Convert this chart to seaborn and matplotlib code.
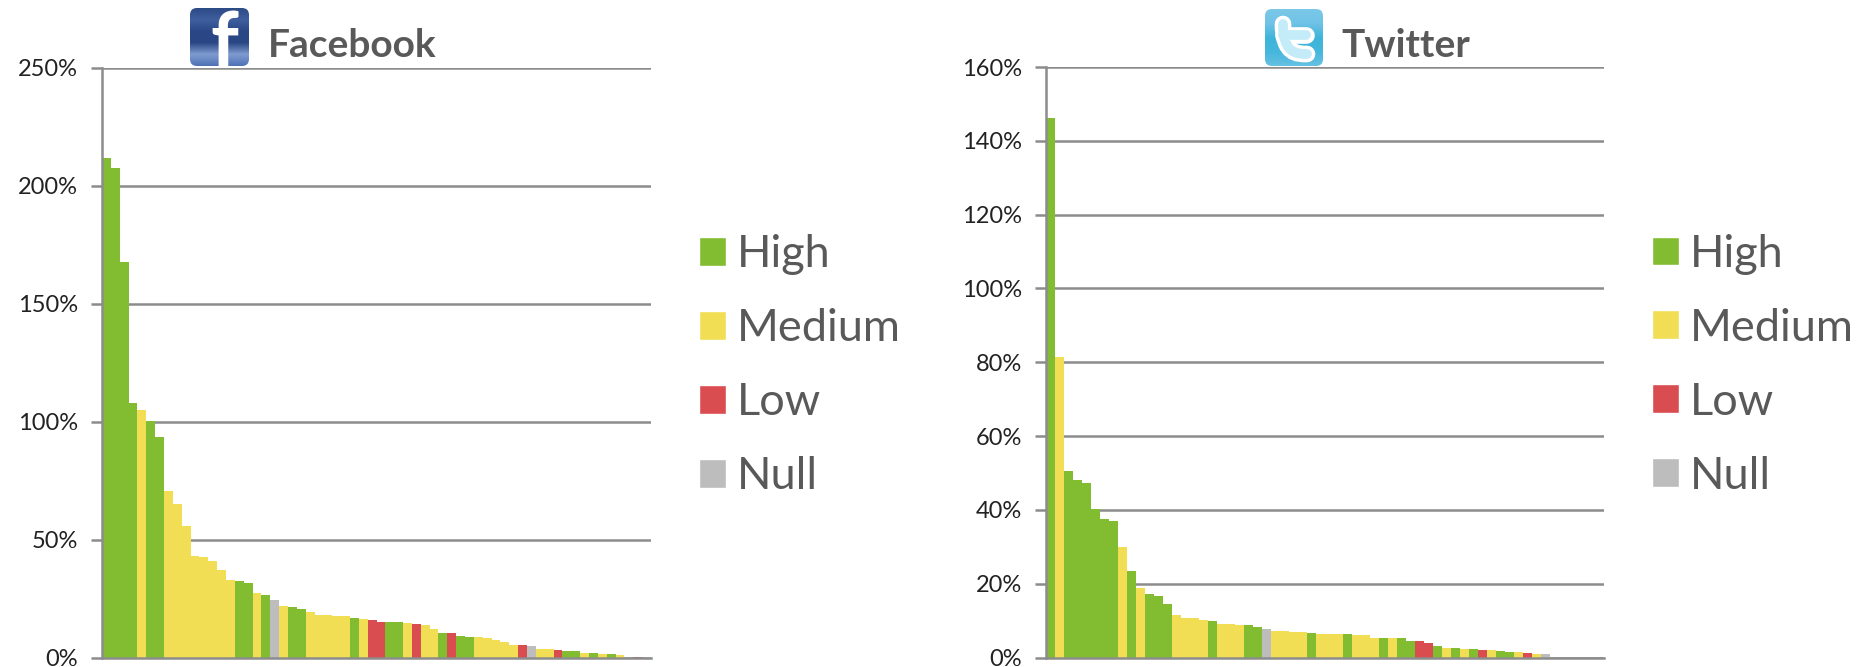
import numpy as np
import pandas as pd
import matplotlib.pyplot as plt
from matplotlib.colors import LinearSegmentedColormap
from matplotlib.patches import FancyBboxPatch, Patch, PathPatch
from matplotlib.path import Path
import seaborn as sns

W, H = 1872, 667

levels = ['High', 'Medium', 'Low', 'Null']
level_colors = {'High': '#82bd31', 'Medium': '#f2de55', 'Low': '#d94c4f', 'Null': '#bdbdbd'}

facebook_values = [211.8, 207.4, 167.9, 108.1, 104.8, 100.3, 93.7, 70.7, 65.1, 55.6,
                   43.2, 42.8, 41.0, 37.1, 32.9, 32.6, 31.7, 27.2, 26.5, 24.5,
                   21.9, 21.6, 20.6, 19.1, 17.9, 17.9, 17.8, 17.5, 16.9, 16.4,
                   16.1, 15.1, 15.2, 14.9, 14.7, 14.4, 13.7, 12.1, 10.2, 10.2,
                   9.0, 8.7, 8.5, 8.4, 7.3, 6.4, 5.5, 5.5, 4.7, 3.4,
                   3.4, 3.1, 2.8, 2.7, 1.7, 1.7, 1.6, 1.3, 0.9, 0.3,
                   0.3, 0.1]
facebook_levels = ['High', 'High', 'High', 'High', 'Medium', 'High', 'High', 'Medium', 'Medium', 'Medium',
                   'Medium', 'Medium', 'Medium', 'Medium', 'Medium', 'High', 'High', 'Medium', 'High', 'Null',
                   'Medium', 'High', 'High', 'Medium', 'Medium', 'Medium', 'Medium', 'Medium', 'High', 'Medium',
                   'Low', 'Low', 'High', 'High', 'Medium', 'Low', 'Medium', 'Medium', 'High', 'Low',
                   'High', 'High', 'Medium', 'Medium', 'Medium', 'Medium', 'Medium', 'Low', 'Null', 'Medium',
                   'Medium', 'Low', 'High', 'High', 'Medium', 'High', 'Medium', 'High', 'Medium', 'Null',
                   'Low', 'Null']

twitter_values = [146.2, 81.5, 50.4, 48.2, 47.4, 40.3, 37.4, 36.9, 29.9, 23.5,
                  18.9, 17.1, 16.7, 14.6, 11.6, 10.8, 10.7, 10.1, 9.9, 9.0,
                  9.0, 8.8, 8.7, 8.2, 7.6, 7.3, 7.2, 6.9, 6.8, 6.7,
                  6.5, 6.4, 6.3, 6.3, 6.1, 6.0, 5.4, 5.4, 5.3, 5.2,
                  4.6, 4.5, 4.0, 3.2, 2.7, 2.5, 2.3, 2.2, 2.1, 2.0,
                  1.7, 1.6, 1.4, 1.1, 0.9, 0.9, 0, 0, 0, 0,
                  0, 0]
twitter_levels = ['High', 'Medium', 'High', 'High', 'High', 'High', 'High', 'High', 'Medium', 'High',
                  'Medium', 'High', 'High', 'High', 'Medium', 'Medium', 'Medium', 'Medium', 'High', 'Medium',
                  'Medium', 'Medium', 'High', 'High', 'Null', 'Medium', 'Medium', 'Medium', 'Medium', 'High',
                  'Medium', 'Medium', 'Medium', 'High', 'Medium', 'Medium', 'Medium', 'High', 'Medium', 'High',
                  'High', 'Low', 'Low', 'High', 'Medium', 'High', 'Medium', 'High', 'Low', 'Medium',
                  'High', 'High', 'Medium', 'Low', 'Medium', 'Null', 'Null', 'Null', 'Null', 'Null',
                  'Null', 'Null']

facebook_ticks = [0, 50, 100, 150, 200, 250]
twitter_ticks = [0, 20, 40, 60, 80, 100, 120, 140, 160]

sns.set_theme(style='white')
plt.rcParams['font.family'] = ['Lato', 'DejaVu Sans']

fig = plt.figure(figsize=(W / 100, H / 100), dpi=100, facecolor='white')


def px_axes(left, top, right, bottom):
    return fig.add_axes([left / W, 1 - bottom / H, (right - left) / W, (bottom - top) / H])


def draw_panel(ax, values, bar_levels, ticks, legend_x):
    df = pd.DataFrame({'pos': range(len(values)), 'value': values, 'level': bar_levels})
    sns.barplot(data=df, x='pos', y='value', hue='level', hue_order=levels, palette=level_colors,
                dodge=False, width=1.0, saturation=1, linewidth=0, legend=False, ax=ax, zorder=3)
    ax.set_xlim(-0.5, len(values) - 0.5)
    ax.set_ylim(ticks[0], ticks[-1])
    ax.set_yticks(ticks)
    ax.set_yticklabels([f'{t}%' for t in ticks], fontsize=17, color='#222222')
    ax.set_xticks([])
    ax.set_xlabel('')
    ax.set_ylabel('')
    ax.set_axisbelow(True)
    ax.yaxis.grid(True, color='#8c8c8c', linewidth=1.8)
    ax.tick_params(axis='y', length=8, width=1.8, color='#8c8c8c', pad=9.5, left=True)
    for side in ['top', 'right']:
        ax.spines[side].set_visible(False)
    for side in ['left', 'bottom']:
        ax.spines[side].set_color('#8c8c8c')
        ax.spines[side].set_linewidth(1.8)
        ax.spines[side].set_zorder(4)
    handles = [Patch(facecolor=level_colors[lv], label=lv) for lv in levels]
    ax.legend(handles=handles, loc='center left', bbox_to_anchor=(legend_x, 0.495), frameon=False,
              fontsize=32.5, labelcolor='#595959', handlelength=0.6, handleheight=0.6,
              handletextpad=0.25, labelspacing=0.73, borderpad=0, borderaxespad=0)


ax_fb = px_axes(102, 68, 651, 657.5)
draw_panel(ax_fb, facebook_values, facebook_levels, facebook_ticks, 1.0874)
ax_tw = px_axes(1046, 67, 1604, 657.5)
draw_panel(ax_tw, twitter_values, twitter_levels, twitter_ticks, 1.086)

# overlay in pixel coordinates for the logos and headings
over = fig.add_axes([0, 0, 1, 1], zorder=10)
over.patch.set_alpha(0)
over.axis('off')


def draw_icon(x0, y0, x1, y1, colors):
    cmap = LinearSegmentedColormap.from_list('icon', colors)
    grad = np.linspace(0, 1, 128).reshape(-1, 1)
    im = over.imshow(grad, cmap=cmap, extent=(x0, x1, y1, y0), aspect='auto', zorder=1)
    box = FancyBboxPatch((x0 + 5, y0 + 5), x1 - x0 - 10, y1 - y0 - 10, boxstyle='round,pad=5,rounding_size=7',
                         facecolor='none', edgecolor='none', transform=over.transData)
    over.add_patch(box)
    im.set_clip_path(box)


draw_icon(190, 8, 249, 66, ['#2c4a86', '#3f5f9f', '#2a4785', '#2a4785', '#7f9bd0', '#4f72b5'])
draw_icon(1265, 9, 1323, 66, ['#7cc8e8', '#6fc3e6', '#3fb4da', '#45b6dc', '#66c1e2'])
over.set_xlim(0, W)
over.set_ylim(H, 0)

over.text(224, 68, 'f', color='white', fontsize=56, fontweight='bold', ha='center', va='baseline', zorder=2)

# twitter "t" as two rounded strokes, white outline with a pale fill
stem = Path([(1283, 24), (1283, 54), (1297, 54), (1307, 54)], [Path.MOVETO, Path.CURVE4, Path.CURVE4, Path.CURVE4])
bar = Path([(1283, 35), (1306, 35)], [Path.MOVETO, Path.LINETO])
for shape in [stem, bar]:
    over.add_patch(PathPatch(shape, facecolor='none', edgecolor='white', linewidth=12, capstyle='round', zorder=2))
for shape in [stem, bar]:
    over.add_patch(PathPatch(shape, facecolor='none', edgecolor='#c4ecf8', linewidth=7, capstyle='round', zorder=3))

over.text(268, 57, 'Facebook', color='#595959', fontsize=28, fontweight='bold', ha='left', va='baseline', zorder=2)
over.text(1341, 57, 'Twitter', color='#595959', fontsize=28, fontweight='bold', ha='left', va='baseline', zorder=2)

fig.savefig('out.png', dpi=100)
